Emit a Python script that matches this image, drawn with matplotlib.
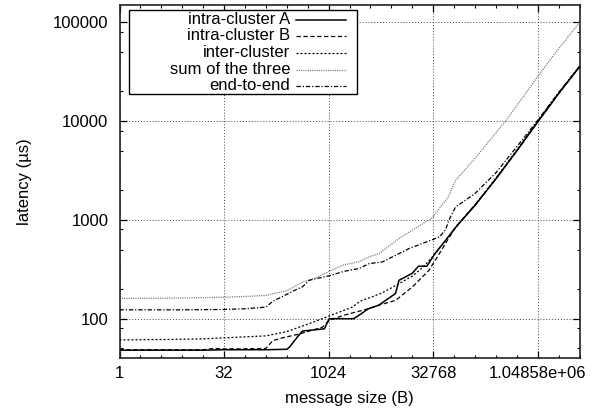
import matplotlib
matplotlib.use("Agg")
import matplotlib.pyplot as plt
from matplotlib.patches import Rectangle
from matplotlib.ticker import FixedLocator, FixedFormatter, NullFormatter

plt.rcParams['font.family'] = ['Liberation Sans', 'DejaVu Sans']

# ─── data (message size in bytes, latency in µs) ────────────────────────
SIZE_A = [1, 2, 4, 8, 16, 32, 64, 128, 256, 280, 362, 430, 891, 1045, 2353,
          2896, 3822, 5404, 9410, 10585, 16384, 20171, 26616, 35119, 49667,
          69500, 131072, 262144, 524288, 1048576, 2097152, 4194304]
LAT_A = [48, 48, 48, 48, 48, 48.5, 48.5, 48.5, 49, 51.5, 65, 75, 79, 100, 100,
         110, 126, 137, 180, 245, 288, 340, 340, 460, 624,
         845, 1400, 2600, 5000, 9800, 19000, 35500]

SIZE_B = [1, 16, 23, 32, 64, 128, 161, 223, 388, 832, 1045, 1663, 3822, 5404,
          9410, 16384, 28526, 40342, 68750, 131072, 262144, 524288, 1048576,
          2097152, 4194304]
LAT_B = [48.5, 48.5, 50, 49.5, 49.5, 50, 60, 64, 70, 82, 96, 108, 126, 137,
         153, 209, 309, 457, 845, 1420, 2600, 5000, 9800, 19000, 35500]

SIZE_INTER = [1, 4, 16, 32, 64, 128, 256, 512, 1024, 2257, 2896, 5793, 8192,
              11585, 16384, 23170, 32768, 46341, 65536, 131072, 262144,
              524288, 1048576, 2097152, 4194304]
LAT_INTER = [61, 61.5, 62.5, 64, 65.5, 67, 74, 88, 106, 131, 150, 180, 205,
             235, 270, 330, 430, 580, 800, 1420, 2650, 5100, 10000, 19300, 36000]

SIZE_SUM = [1, 8, 32, 64, 128, 256, 434, 676, 1024, 1629, 2817, 3929, 5480,
            10585, 16384, 31859, 53817, 68750, 131072, 262144, 360800, 524288,
            1048576, 2097152, 4194304]
LAT_SUM = [160, 162, 165, 168, 172, 192, 235, 260, 300, 348, 378, 423, 457,
           648, 787, 1050, 1700, 2500, 4200, 7600, 10000, 14300,
           28300, 54000, 100000]

SIZE_E2E = [1, 8, 32, 64, 128, 161, 350, 431, 541, 1045, 1722, 2817, 3929,
            6122, 14760, 22690, 40342, 49667, 55450, 68750, 131072, 262144,
            524288, 1048576, 2097152, 4194304]
LAT_E2E = [123, 123, 124, 126, 131, 150, 197, 210, 245, 272, 302, 322, 361,
           376, 513, 576, 672, 800, 1000, 1350, 1850, 3000, 5500, 10200,
           19500, 35800]

X_TICKS = [1, 32, 1024, 32768, 1048576]
X_LABELS = ["1", "32", "1024", "32768", "1.04858e+06"]
Y_TICKS = [100, 1000, 10000, 100000]
Y_LABELS = ["100", "1000", "10000", "100000"]

SERIES = [
    ("intra-cluster A", SIZE_A, LAT_A, "black", "-", 1.1),
    ("intra-cluster B", SIZE_B, LAT_B, "black", (0, (3.5, 2)), 0.9),
    ("inter-cluster", SIZE_INTER, LAT_INTER, "black", (0, (1.6, 1.6)), 0.9),
    ("sum of the three", SIZE_SUM, LAT_SUM, "#777777", (0, (0.9, 0.9)), 0.9),
    ("end-to-end", SIZE_E2E, LAT_E2E, "black", (0, (3.5, 1.5, 1, 1.5)), 0.9),
]

# ─── chart ──────────────────────────────────────────────────────────────
fig = plt.figure(figsize=(6.0, 4.12), dpi=100)
ax = fig.add_axes([119.5 / 600, 1 - 358 / 412, 460 / 600, 353 / 412])

for lbl, xs, ys, col, ls, lw in SERIES:
    ax.plot(xs, ys, color=col, linestyle=ls, linewidth=lw, zorder=3)

ax.set_xscale("log", base=2)
ax.set_yscale("log")
ax.set_xlim(1, 4194304)
ax.set_ylim(40, 150000)

ax.xaxis.set_major_locator(FixedLocator(X_TICKS))
ax.xaxis.set_major_formatter(FixedFormatter(X_LABELS))
ax.xaxis.set_minor_locator(FixedLocator([2 ** k for k in range(23)]))
ax.xaxis.set_minor_formatter(NullFormatter())
ax.yaxis.set_major_locator(FixedLocator(Y_TICKS))
ax.yaxis.set_major_formatter(FixedFormatter(Y_LABELS))
ax.yaxis.set_minor_locator(FixedLocator([m * 10 ** e for e in range(1, 6) for m in (2, 5, 8)]))
ax.yaxis.set_minor_formatter(NullFormatter())

ax.tick_params(which="both", direction="in", top=True, right=True,
               labelsize=12, colors="black")
ax.tick_params(which="major", length=5, width=0.9)
ax.tick_params(which="minor", length=2.5, width=0.8)
ax.tick_params(axis="x", which="major", pad=6)
ax.tick_params(axis="y", which="major", pad=8)

ax.grid(True, which="major", color="#444444", linestyle=(0, (1, 2)), linewidth=0.7)
for sp in ax.spines.values():
    sp.set_linewidth(1.2)
    sp.set_color("#222222")

ax.set_xlabel("message size (B)", fontsize=12, labelpad=7)
ax.set_ylabel("latency (µs)", fontsize=12, labelpad=15)

# gnuplot-style key: right aligned labels, samples on the right
def px_x(p): return (p - 119.5) / 460
def px_y(p): return (358 - p) / 353

ax.add_patch(Rectangle((px_x(129), px_y(94)), px_x(357) - px_x(129), px_y(10) - px_y(94),
                       transform=ax.transAxes, facecolor="white", edgecolor="black",
                       linewidth=1.0, zorder=10))
ROWS = [19.5, 36, 52.5, 69.5, 86]
for (lbl, xs, ys, col, ls, lw), yr in zip(SERIES, ROWS):
    ax.text(px_x(290), px_y(yr), lbl, transform=ax.transAxes, ha="right",
            va="center", fontsize=12, zorder=11)
    ax.plot([px_x(296), px_x(346)], [px_y(yr), px_y(yr)], transform=ax.transAxes,
            color=col, linestyle=ls, linewidth=lw, zorder=11, clip_on=False)

fig.savefig("out.png", dpi=100)
